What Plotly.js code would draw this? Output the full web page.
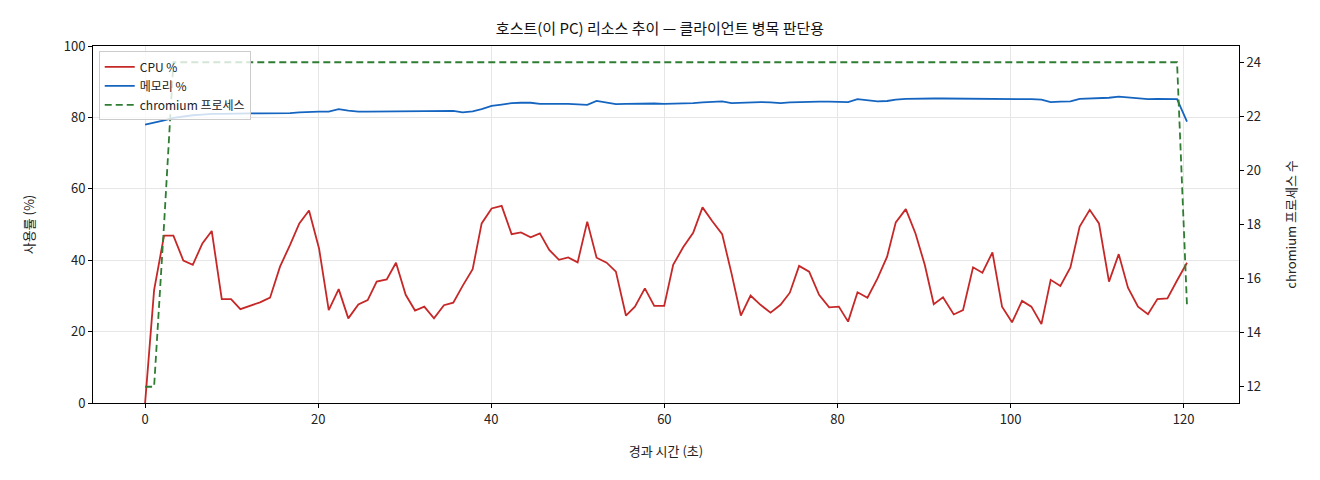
<!DOCTYPE html>
<html>
<head>
<meta charset="utf-8">
<script src="https://cdn.plot.ly/plotly-3.0.1.min.js"></script>
<style>html,body{margin:0;padding:0;background:#fff}#chart{width:1320px;height:480px}</style>
</head>
<body>
<div id="chart"></div>
<script>
// elapsed seconds for each sample
const elapsed = [0.00,1.04,2.19,3.27,4.42,5.51,6.62,7.70,8.86,9.93,11.01,12.13,13.28,14.44,15.59,16.75,17.82,18.94,20.10,21.22,22.37,23.48,24.64,25.72,26.76,27.92,28.99,30.11,31.19,32.26,33.38,34.53,35.61,36.69,37.85,38.89,40.04,41.20,42.35,43.43,44.55,45.62,46.70,47.82,48.89,49.98,51.09,52.17,53.33,54.40,55.56,56.60,57.75,58.83,59.98,61.02,62.17,63.33,64.41,65.52,66.68,67.76,68.84,69.96,71.11,72.27,73.42,74.50,75.57,76.73,77.88,79.04,80.16,81.23,82.32,83.47,84.63,85.74,86.74,87.90,89.02,90.09,91.13,92.20,93.44,94.51,95.67,96.75,97.91,99.02,100.17,101.33,102.41,103.57,104.64,105.76,106.92,107.99,109.15,110.22,111.38,112.50,113.57,114.73,115.88,116.97,118.13,119.24,120.39];
// CPU usage %
const cpuPct = [0.0,31.6,46.9,46.9,39.9,38.7,44.7,48.2,29.1,29.1,26.3,27.2,28.2,29.5,38.2,44.3,50.3,53.9,43.3,26.0,31.9,23.7,27.6,28.8,34.0,34.6,39.3,30.3,25.9,27.0,23.7,27.4,28.1,32.8,37.5,50.3,54.5,55.2,47.3,47.8,46.4,47.5,42.9,40.1,40.8,39.4,50.8,40.7,39.3,36.8,24.5,27.0,32.1,27.2,27.2,38.7,43.6,47.7,54.8,51.0,47.3,36.3,24.5,30.1,27.5,25.3,27.5,30.9,38.4,36.8,30.3,26.8,27.0,22.8,31.0,29.5,34.9,41.0,50.6,54.3,47.5,38.7,27.7,29.6,24.8,26.0,38.0,36.5,42.2,27.0,22.6,28.6,27.0,22.1,34.5,32.8,38.0,49.4,54.1,50.3,34.0,41.7,32.3,27.0,24.9,29.1,29.3,34.3,39.3];
// memory usage %
const memPct = [78.0,78.5,79.2,79.9,80.3,80.6,80.8,81.0,81.0,81.1,81.1,81.1,81.1,81.1,81.1,81.2,81.4,81.6,81.6,81.6,82.3,81.9,81.6,81.6,81.6,81.7,81.8,81.8,81.8,81.8,81.8,81.8,81.8,81.4,81.7,82.3,83.2,83.6,84.0,84.1,84.1,83.8,83.9,83.8,83.8,83.7,83.5,84.6,84.1,83.7,83.8,83.9,84.0,83.9,83.8,83.8,83.9,84.0,84.2,84.4,84.5,84.0,84.1,84.2,84.3,84.2,84.0,84.2,84.3,84.4,84.4,84.4,84.3,84.3,85.1,84.8,84.5,84.6,85.0,85.2,85.3,85.3,85.3,85.3,85.3,85.2,85.1,85.2,85.2,85.2,85.2,85.1,85.1,85.0,84.3,84.4,84.5,85.2,85.3,85.3,85.5,85.8,85.6,85.2,85.1,85.2,85.2,85.1,78.8];
// chromium process count
const chromiumCount = [12,12,18,24,24,24,24,24,24,24,24,24,24,24,24,24,24,24,24,24,24,24,24,24,24,24,24,24,24,24,24,24,24,24,24,24,24,24,24,24,24,24,24,24,24,24,24,24,24,24,24,24,24,24,24,24,24,24,24,24,24,24,24,24,24,24,24,24,24,24,24,24,24,24,24,24,24,24,24,24,24,24,24,24,24,24,24,24,24,24,24,24,24,24,24,24,24,24,24,24,24,24,24,24,24,24,24,24,15];

const xTicks = [0,20,40,60,80,100,120];
const yTicks = [0,20,40,60,80,100];
const y2Ticks = [12,14,16,18,20,22,24];

const FONT = '"Noto Sans CJK KR", "Noto Sans", "DejaVu Sans", sans-serif';

const traces = [
  {x: elapsed, y: cpuPct, name: 'CPU %', type: 'scatter', mode: 'lines',
   line: {color: '#c62828', width: 1.8}},
  {x: elapsed, y: memPct, name: '메모리 %', type: 'scatter', mode: 'lines',
   line: {color: '#1565c0', width: 1.8}},
  {x: elapsed, y: chromiumCount, name: 'chromium 프로세스', type: 'scatter', mode: 'lines',
   yaxis: 'y2', line: {color: '#2e7d32', width: 1.8, dash: '7px,4px'}}
];

const layout = {
  width: 1320, height: 480,
  margin: {l: 93, r: 81, t: 46, b: 77},
  paper_bgcolor: '#ffffff', plot_bgcolor: '#ffffff',
  font: {family: FONT, size: 13, color: '#222'},
  title: {text: '호스트(이 PC) 리소스 추이 — 클라이언트 병목 판단용', x: 0.5, xanchor: 'center',
          y: 0.94, yanchor: 'middle', font: {size: 15, color: '#111'}},
  showlegend: true,
  legend: {x: 0.005, y: 0.985, xanchor: 'left', yanchor: 'top',
           bgcolor: 'rgba(255,255,255,0.8)', bordercolor: '#cccccc', borderwidth: 1,
           font: {size: 12, color: '#222'}, itemwidth: 30},
  xaxis: {range: [-6.02, 126.4], tickvals: xTicks, ticktext: xTicks.map(String),
          showgrid: true, gridcolor: '#e6e6e6', gridwidth: 1, zeroline: false,
          showline: true, linecolor: '#000', linewidth: 1, mirror: true,
          ticks: 'outside', ticklen: 4, tickcolor: '#000',
          title: {text: '경과 시간 (초)', font: {size: 13}, standoff: 20}},
  yaxis: {range: [0, 100], tickvals: yTicks, ticktext: yTicks.map(String),
          showgrid: true, gridcolor: '#e6e6e6', gridwidth: 1, zeroline: false,
          showline: true, linecolor: '#000', linewidth: 1, mirror: true,
          ticks: 'outside', ticklen: 4, tickcolor: '#000',
          title: {text: '사용률 (%)', font: {size: 13}, standoff: 26}},
  yaxis2: {overlaying: 'y', side: 'right', range: [11.4, 24.6], tickvals: y2Ticks, ticktext: y2Ticks.map(String),
           showgrid: false, zeroline: false, showline: true, linecolor: '#000', linewidth: 1,
           ticks: 'outside', ticklen: 4, tickcolor: '#000',
           title: {text: 'chromium 프로세스 수', font: {size: 13}, standoff: 26}}
};

Plotly.newPlot('chart', traces, layout, {displayModeBar: false, staticPlot: true});
</script>
</body>
</html>
